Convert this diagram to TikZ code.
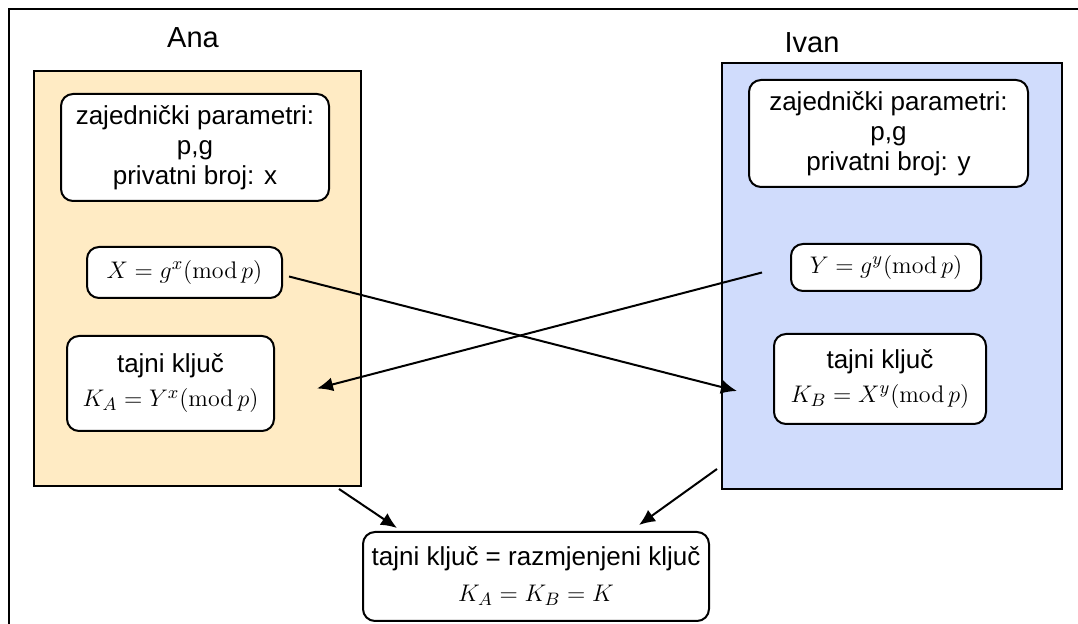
\documentclass[tikz,border=0pt]{standalone}
\usepackage[no-math]{fontspec}
\setmainfont{Liberation Sans}
\usetikzlibrary{arrows.meta,positioning}

\definecolor{anafill}{RGB}{255,235,196}
\definecolor{ivanfill}{RGB}{208,220,252}

\tikzstyle{party} = [rectangle, draw=black, line width=1pt, anchor=north west, inner sep=0pt]
\tikzstyle{info} = [rectangle, draw=black, fill=white, line width=1pt, rounded corners=6pt,
	anchor=north west, align=center, inner sep=0pt, font=\fontsize{13}{15}\selectfont]
\tikzstyle{arrow} = [line width=1pt, -{Latex[length=8pt, width=7pt]}]

\begin{document}
\begin{tikzpicture}[x=0.5pt, y=-0.5pt]

		\useasboundingbox (0,0) rectangle (1078,624);

		% okvir
		\draw[line width=1pt] (9,624) -- (9,9) -- (1078,9);

		% ====== Ana ======
		\node[font=\fontsize{14.5}{16}\selectfont] (ananame) at (193,38) {Ana};
		\node[party, fill=anafill, minimum width=327*0.5pt, minimum height=415*0.5pt]
		(ana) at (33,70) {};

		\node[info, minimum width=268*0.5pt, minimum height=107*0.5pt]
		(anaparam) at (60,93) {zajednički parametri:\\ p,g\\ privatni broj: x};

		\node[info, minimum width=195*0.5pt, minimum height=51*0.5pt]
		(anaX) at (86,246) {$X = g^{x}(\mathrm{mod}\,p)$};

		\node[info, minimum width=207*0.5pt, minimum height=95*0.5pt]
		(anakey) at (66,335) {tajni ključ\\[2pt] $K_{A} = Y^{x}(\mathrm{mod}\,p)$};

		% ====== Ivan ======
		\node[font=\fontsize{14.5}{16}\selectfont] (ivanname) at (812,43) {Ivan};
		\node[party, fill=ivanfill, minimum width=340*0.5pt, minimum height=426*0.5pt]
		(ivan) at (721,62) {};

		\node[info, minimum width=279*0.5pt, minimum height=107*0.5pt]
		(ivanparam) at (748,79) {zajednički parametri:\\ p,g\\ privatni broj: y};

		\node[info, minimum width=190*0.5pt, minimum height=47*0.5pt]
		(ivanY) at (790,243) {$Y = g^{y}(\mathrm{mod}\,p)$};

		\node[info, minimum width=212*0.5pt, minimum height=90*0.5pt]
		(ivankey) at (773,333) {tajni ključ\\[2pt] $K_{B} = X^{y}(\mathrm{mod}\,p)$};

		% ====== Razmjena ======
		\draw[arrow] ([shift={(6,4)}]anaX.east) -- ([shift={(-36,12)}]ivankey.west);
		\draw[arrow] ([shift={(-28,5)}]ivanY.west) -- ([shift={(42,5)}]anakey.east);

		% ====== Zajednički ključ ======
		\node[info, minimum width=346*0.5pt, minimum height=89*0.5pt]
		(shared) at (362,531) {tajni ključ = razmjenjeni ključ\\[3pt] $K_{A} = K_{B} = K$};

		\draw[arrow] ([shift={(-23,2)}]ana.south east) -- ([shift={(35,-3)}]shared.north west);
		\draw[arrow] ([shift={(-4,-21)}]ivan.south west) -- ([shift={(-71,-6)}]shared.north east);

	\end{tikzpicture}
\end{document}
